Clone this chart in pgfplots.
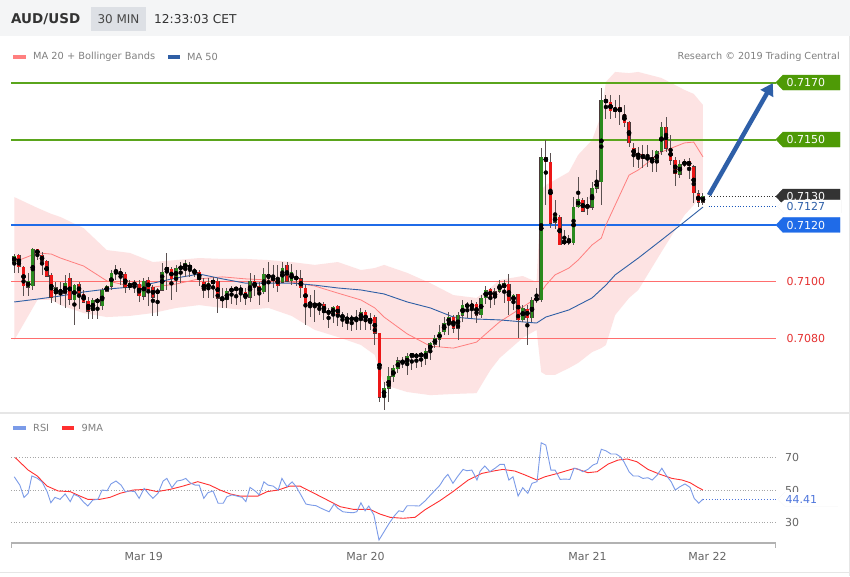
\documentclass[border=0pt]{standalone}
\usepackage{fontspec}
\setmainfont{DejaVu Sans}
\usepackage{pgfplots}
\usepackage{pgfplotstable}
\pgfplotsset{compat=1.18}
\usetikzlibrary{arrows.meta}

\definecolor{hdrbg}{HTML}{F4F5F6}
\definecolor{minbox}{HTML}{DDE0E5}
\definecolor{txtdark}{HTML}{333333}
\definecolor{txtgray}{HTML}{808080}
\definecolor{bandpink}{HTML}{FDE3E3}
\definecolor{ma20}{HTML}{FF7F7F}
\definecolor{ma50}{HTML}{2F5FA5}
\definecolor{cgreen}{HTML}{2A8A1E}
\definecolor{cred}{HTML}{EC1616}
\definecolor{cedge}{HTML}{4A3A3A}
\definecolor{wickgray}{HTML}{5A5050}
\definecolor{lvlgreen}{HTML}{5AA51C}
\definecolor{taggreen}{HTML}{4E9A06}
\definecolor{lvlblue}{HTML}{1F6BE8}
\definecolor{lvlred}{HTML}{FF6E6E}
\definecolor{txtred}{HTML}{E53030}
\definecolor{tagdark}{HTML}{333333}
\definecolor{arrowblue}{HTML}{2E5FA8}
\definecolor{rsiblue}{HTML}{7B9BE8}
\definecolor{rsired}{HTML}{FF3030}
\definecolor{rsitxt}{HTML}{4E76DC}
\definecolor{sepgray}{HTML}{E6E6E6}

% candles: index, open, high, low, close
\pgfplotstableread{
i o h l c
0 0.71070 0.71098 0.71032 0.71091
1 0.71095 0.71098 0.71032 0.71053
2 0.71053 0.71056 0.70951 0.70986
3 0.70982 0.71032 0.70951 0.71004
4 0.70986 0.71119 0.70972 0.71116
5 0.71116 0.71116 0.71077 0.71098
6 0.71095 0.71105 0.71025 0.71074
7 0.71074 0.71077 0.71021 0.71021
8 0.71025 0.71032 0.70926 0.70947
9 0.70961 0.71000 0.70930 0.70982
10 0.70972 0.71000 0.70919 0.70965
11 0.70961 0.71025 0.70912 0.70996
12 0.71014 0.71032 0.70919 0.70940
13 0.70937 0.70996 0.70849 0.70989
14 0.70993 0.71000 0.70905 0.70961
15 0.70958 0.70972 0.70926 0.70930
16 0.70933 0.70947 0.70870 0.70898
17 0.70902 0.70944 0.70870 0.70937
18 0.70937 0.70944 0.70870 0.70933
19 0.70919 0.70979 0.70902 0.70972
20 0.70968 0.70989 0.70965 0.70986
21 0.70986 0.71042 0.70972 0.71032
22 0.71042 0.71060 0.71007 0.71035
23 0.71039 0.71049 0.70989 0.71021
24 0.71028 0.71035 0.70961 0.70982
25 0.70982 0.71007 0.70972 0.70996
26 0.71000 0.71007 0.70961 0.70989
27 0.70993 0.71007 0.70930 0.70951
28 0.70951 0.71014 0.70937 0.71004
29 0.71007 0.71018 0.70919 0.70975
30 0.70982 0.70989 0.70881 0.70947
31 0.70961 0.70982 0.70881 0.70972
32 0.70972 0.71067 0.70972 0.71035
33 0.71039 0.71105 0.70972 0.71053
34 0.71046 0.71053 0.70937 0.71011
35 0.71011 0.71060 0.70965 0.71049
36 0.71046 0.71070 0.70996 0.71053
37 0.71049 0.71077 0.71018 0.71067
38 0.71060 0.71070 0.71018 0.71046
39 0.71042 0.71049 0.71018 0.71035
40 0.71035 0.71042 0.70989 0.71011
41 0.71000 0.71014 0.70944 0.70972
42 0.70979 0.71014 0.70944 0.70996
43 0.71007 0.71018 0.70944 0.70996
44 0.71004 0.71014 0.70891 0.70944
45 0.70944 0.70979 0.70909 0.70937
46 0.70937 0.70982 0.70909 0.70968
47 0.70965 0.70989 0.70926 0.70979
48 0.70975 0.70982 0.70919 0.70979
49 0.70979 0.70989 0.70930 0.70968
50 0.70965 0.70979 0.70919 0.70944
51 0.70947 0.71032 0.70930 0.71004
52 0.71004 0.71025 0.70954 0.70982
53 0.70986 0.71000 0.70919 0.70965
54 0.70965 0.71049 0.70958 0.71028
55 0.71028 0.71070 0.70930 0.71014
56 0.71014 0.71060 0.70979 0.71011
57 0.71014 0.71060 0.70965 0.70989
58 0.71000 0.71070 0.70996 0.71049
59 0.71060 0.71070 0.71000 0.71004
60 0.71004 0.71063 0.70989 0.71035
61 0.71018 0.71042 0.70989 0.71011
62 0.71011 0.71042 0.70944 0.70979
63 0.70979 0.70989 0.70849 0.70926
64 0.70926 0.70954 0.70877 0.70923
65 0.70923 0.70972 0.70860 0.70919
66 0.70926 0.70930 0.70884 0.70916
67 0.70923 0.70930 0.70867 0.70895
68 0.70902 0.70912 0.70839 0.70888
69 0.70888 0.70919 0.70856 0.70912
70 0.70916 0.70919 0.70846 0.70881
71 0.70884 0.70895 0.70842 0.70874
72 0.70874 0.70891 0.70832 0.70870
73 0.70874 0.70884 0.70828 0.70870
74 0.70874 0.70902 0.70832 0.70870
75 0.70870 0.70909 0.70832 0.70895
76 0.70895 0.70902 0.70832 0.70860
77 0.70860 0.70891 0.70832 0.70874
78 0.70877 0.70884 0.70779 0.70821
79 0.70821 0.70821 0.70579 0.70596
80 0.70596 0.70649 0.70551 0.70628
81 0.70628 0.70702 0.70579 0.70670
82 0.70667 0.70709 0.70649 0.70698
83 0.70698 0.70737 0.70681 0.70726
84 0.70726 0.70737 0.70698 0.70716
85 0.70712 0.70751 0.70674 0.70740
86 0.70737 0.70754 0.70691 0.70751
87 0.70744 0.70751 0.70698 0.70740
88 0.70747 0.70754 0.70702 0.70744
89 0.70733 0.70768 0.70709 0.70758
90 0.70758 0.70789 0.70726 0.70786
91 0.70782 0.70814 0.70768 0.70804
92 0.70800 0.70849 0.70772 0.70825
93 0.70825 0.70877 0.70814 0.70856
94 0.70856 0.70895 0.70814 0.70877
95 0.70877 0.70884 0.70821 0.70839
96 0.70839 0.70895 0.70796 0.70884
97 0.70884 0.70937 0.70860 0.70919
98 0.70919 0.70930 0.70874 0.70916
99 0.70912 0.70937 0.70874 0.70923
100 0.70923 0.70930 0.70856 0.70884
101 0.70884 0.70954 0.70874 0.70944
102 0.70944 0.70989 0.70926 0.70972
103 0.70975 0.70982 0.70909 0.70944
104 0.70947 0.70979 0.70919 0.70968
105 0.70968 0.71007 0.70961 0.70993
106 0.70979 0.71007 0.70926 0.70996
107 0.70993 0.71028 0.70884 0.70933
108 0.70933 0.70961 0.70902 0.70954
109 0.70958 0.70958 0.70804 0.70867
110 0.70867 0.70919 0.70860 0.70909
111 0.70905 0.70919 0.70779 0.70874
112 0.70874 0.70947 0.70860 0.70937
113 0.70937 0.70979 0.70926 0.70944
114 0.70940 0.71470 0.70930 0.71439
115 0.71439 0.71498 0.71270 0.71421
116 0.71421 0.71453 0.71189 0.71207
117 0.71211 0.71288 0.71189 0.71232
118 0.71228 0.71235 0.71130 0.71133
119 0.71133 0.71182 0.71130 0.71147
120 0.71147 0.71165 0.71130 0.71140
121 0.71140 0.71298 0.71133 0.71263
122 0.71263 0.71368 0.71260 0.71291
123 0.71288 0.71295 0.71246 0.71249
124 0.71267 0.71298 0.71235 0.71263
125 0.71263 0.71351 0.71253 0.71330
126 0.71330 0.71393 0.71312 0.71354
127 0.71354 0.71681 0.71270 0.71639
128 0.71639 0.71656 0.71575 0.71632
129 0.71632 0.71656 0.71575 0.71600
130 0.71600 0.71639 0.71575 0.71611
131 0.71614 0.71656 0.71551 0.71597
132 0.71590 0.71621 0.71544 0.71561
133 0.71561 0.71565 0.71474 0.71488
134 0.71470 0.71488 0.71404 0.71449
135 0.71453 0.71474 0.71400 0.71442
136 0.71449 0.71481 0.71400 0.71432
137 0.71439 0.71481 0.71404 0.71432
138 0.71439 0.71463 0.71386 0.71421
139 0.71421 0.71463 0.71386 0.71460
140 0.71460 0.71561 0.71446 0.71544
141 0.71544 0.71579 0.71456 0.71470
142 0.71470 0.71516 0.71411 0.71428
143 0.71428 0.71439 0.71340 0.71379
144 0.71379 0.71428 0.71365 0.71414
145 0.71411 0.71432 0.71404 0.71425
146 0.71425 0.71435 0.71361 0.71407
147 0.71404 0.71411 0.71277 0.71312
148 0.71312 0.71323 0.71263 0.71281
149 0.71281 0.71312 0.71270 0.71302
}\candles

% Bollinger bands (upper, lower) and MA 20
\pgfplotstableread{
i up lo mid
0 0.71298 0.70796 0.71070
5 0.71260 0.70937 0.71102
8 0.71239 0.70937 0.71098
10 0.71228 0.70919 0.71084
15 0.71189 0.70891 0.71056
20 0.71112 0.70877 0.71004
25 0.71102 0.70881 0.70986
30 0.71070 0.70891 0.70982
35 0.71077 0.70909 0.70993
40 0.71084 0.70919 0.71011
45 0.71081 0.70909 0.71018
50 0.71081 0.70902 0.71011
55 0.71077 0.70909 0.71007
60 0.71070 0.70881 0.71000
65 0.71060 0.70832 0.70986
70 0.71070 0.70807 0.70961
75 0.71042 0.70779 0.70937
78 0.71049 0.70744 0.70909
80 0.71060 0.70639 0.70877
85 0.71032 0.70614 0.70818
90 0.70996 0.70603 0.70775
95 0.70954 0.70607 0.70768
100 0.70944 0.70610 0.70789
103 0.70979 0.70691 0.70832
105 0.71007 0.70733 0.70860
110 0.71021 0.70804 0.70912
113 0.71000 0.70832 0.70944
114 0.71323 0.70684 0.70965
115 0.71340 0.70674 0.70989
117 0.71358 0.70674 0.71025
120 0.71386 0.70698 0.71049
122 0.71446 0.70716 0.71077
125 0.71498 0.70754 0.71130
127 0.71586 0.70768 0.71154
128 0.71702 0.70779 0.71200
130 0.71737 0.70884 0.71270
133 0.71733 0.70944 0.71375
135 0.71737 0.70972 0.71393
140 0.71716 0.71105 0.71456
145 0.71674 0.71235 0.71488
147 0.71660 0.71270 0.71491
149 0.71621 0.71316 0.71439
}\bands

\pgfplotstableread{
i v
0 0.70930
5 0.70940
10 0.70951
15 0.70965
20 0.70975
25 0.70982
30 0.70996
35 0.71014
40 0.71028
45 0.71011
50 0.70996
55 0.70996
60 0.70996
65 0.70989
70 0.70979
75 0.70972
80 0.70958
85 0.70930
90 0.70909
95 0.70877
100 0.70870
105 0.70867
110 0.70860
113 0.70856
115 0.70877
120 0.70902
125 0.70944
128 0.70989
130 0.71025
135 0.71084
140 0.71147
145 0.71211
149 0.71263
}\mafifty

\pgfplotstableread{
i v
0 58.1
1.2 53
2.1 45.5
3.0 48
3.8 58.6
4.9 57.3
6.0 55
7.1 49
7.9 42.2
8.8 45.5
9.9 44.3
11.0 47.6
12.1 42.9
12.9 47.4
14.0 45.9
14.9 42.9
15.9 40.2
17.0 43.9
18.1 44.3
19.0 50
20.1 49.6
20.9 53.7
22.0 55.5
23.1 53
24.0 49
25.0 49.4
26.1 49
27.0 44.9
28.1 51
29.1 47.6
30.0 44.9
31.1 48
32.2 55.5
33.0 57.1
34.1 51.4
35.2 55.5
36.3 56.1
37.1 57.1
38.0 54.5
39.1 53
40.0 53
41.0 44.9
41.9 48.4
43.0 49.4
44.1 41.9
45.2 41.9
46.0 45.9
47.1 47
48.2 46.3
49.3 45.5
50.1 42.9
51.0 51.6
52.1 49.4
53.0 47
54.0 55
54.9 53
56.0 52.4
57.1 50
57.9 57.1
59.0 52
60.1 55
61.0 52
62.0 47
63.1 41.4
64.2 40.8
65.3 40.4
66.1 39.2
67.2 37.8
68.1 36.7
69.2 41.4
70.0 38.8
71.1 36.7
72.2 36.3
73.3 36.1
74.1 36.7
75.0 42.2
75.9 37.3
76.7 40.2
77.8 34.7
78.9 19.4
80.0 24.5
81.1 29.6
82.2 34.1
83.2 37.3
84.1 36.7
85.0 40.4
86.3 40.4
87.6 40.2
88.9 43.4
90.4 48
92.1 53
93.0 57.1
93.8 59.6
94.9 54.1
96.0 58.6
97.1 62.6
97.9 61.8
99.0 62.2
100.1 56.1
100.8 61.6
101.8 64.7
102.9 61.2
104.0 63.3
105.1 65.7
106.0 65.7
107.0 56.1
107.9 58.1
109.0 46.3
110.0 51.4
111.1 48
112.0 54.1
113.1 55.1
114.0 78.9
115.0 77.5
116.1 62.2
117.0 62.2
118.1 56.5
119.1 56.7
120.2 56.5
121.1 63.3
122.2 62.6
123.0 61.2
124.1 62.6
125.2 65.3
126.1 66.3
127.0 74.9
128.0 74
129.1 72
130.2 72
131.1 70.4
131.9 67.3
133.0 61.2
133.9 58.6
135.0 58.6
136.0 57.1
137.1 57.5
138.0 56.1
139.1 59.2
140.1 63.3
141.0 59.2
142.1 55.1
143.0 50
144.0 52
145.1 53.7
146.2 51.6
147.1 44.9
148.1 41.9
149.0 44.41
}\rsi

\pgfplotstableread{
i v
0.2 69.8
3.0 62.2
4.9 58.7
7.1 52.4
9.5 49.4
12.1 49
14.2 46.3
15.9 44.3
18.5 44.3
20.7 45.5
22.9 48
25.7 50
28.7 50.4
30.9 49
33.7 50.4
36.5 52.4
39.7 55.1
42.3 53
44.5 50
46.7 47.6
48.8 46.3
52.7 46.3
54.7 49
57.1 50
59.6 52.4
61.8 52.4
64.6 48.4
67.7 43.9
70.5 39.8
73.3 38.2
76.9 38.2
79.1 35.3
81.3 33.3
84.1 32.7
86.7 33.3
88.9 38
92.1 43.5
94.9 49
98.2 56.1
101.2 60.2
104.0 61.8
105.7 62.6
108.3 61.6
110.5 59.2
113.1 56.1
114.8 58.1
117.6 60.2
121.3 63.3
124.1 60.6
126.1 61.2
128.5 65.9
130.6 68.3
132.6 69
134.7 67.3
137.1 62.6
139.7 59.6
142.3 57.1
144.5 56.1
146.2 54.5
147.9 51.6
149.0 50
}\rsima

\newcommand\tagfont{\fontsize{11}{13}\selectfont}
% price tag with a left-pointing tip at coordinate #1
\newcommand\pricetag[5]{%
  \filldraw[fill=#2, draw=#5, line width=0.4pt] (#1) -- ++(7pt,7.5pt) -- ++(57pt,0pt) -- ++(0pt,-15pt) -- ++(-57pt,0pt) -- cycle;
  \node[anchor=west, inner sep=0pt, text=#3, font=\tagfont] at ([xshift=10.5pt]#1) {#4};
}

\begin{document}
\begin{tikzpicture}
\fill[white] (0,0) rectangle (850pt,576pt);
\useasboundingbox (0,0) rectangle (850pt,576pt);

% header
\fill[hdrbg] (0,540pt) rectangle (850pt,576pt);
\node[anchor=west, inner sep=0pt, text=txtdark, font=\fontsize{13.5}{16}\selectfont\bfseries] at (11pt,557pt) {AUD/USD};
\fill[minbox] (91pt,545pt) rectangle (146pt,569pt);
\node[inner sep=0pt, text=txtdark!90, font=\fontsize{12}{14}\selectfont] at (118.5pt,557pt) {30 MIN};
\node[anchor=west, inner sep=0pt, text=txtdark, font=\fontsize{12.2}{14}\selectfont] at (154pt,557pt) {12:33:03 CET};

% legend row
\fill[ma20] (13pt,516.5pt) rectangle (26pt,521pt);
\node[anchor=west, inner sep=0pt, text=txtgray, font=\fontsize{9.8}{12}\selectfont] at (33pt,519pt) {MA 20 + Bollinger Bands};
\fill[ma50] (167.5pt,516.5pt) rectangle (180pt,521pt);
\node[anchor=west, inner sep=0pt, text=txtgray, font=\fontsize{9.8}{12}\selectfont] at (187pt,519pt) {MA 50};
\node[anchor=east, inner sep=0pt, text=txtgray, font=\fontsize{9.7}{12}\selectfont] at (840pt,519pt) {Research © 2019 Trading Central};

% panel separator and frame
\draw[sepgray, line width=1.5pt] (0,163pt) -- (850pt,163pt);
\draw[sepgray, line width=0.8pt] (849pt,0) -- (849pt,540pt);
\draw[sepgray, line width=0.8pt] (0,4pt) -- (850pt,4pt);

% main price panel
\begin{axis}[
    at={(11pt,163pt)}, anchor=south west,
    scale only axis, width=765pt, height=353pt,
    xmin=-0.714, xmax=164.8,
    ymin=0.705403, ymax=0.717790,
    axis line style={draw=none}, ticks=none,
    clip=false,
  ]
  % Bollinger band as a stacked area between lower and upper
  \addplot[draw=none, stack plots=y, forget plot] table[x=i, y=lo] {\bands};
  \addplot[draw=none, fill=bandpink, stack plots=y, forget plot]
    table[x=i, y expr={\thisrow{up}-\thisrow{lo}}] {\bands} \closedcycle;

  \addplot[lvlred, line width=1pt] coordinates {(-0.714,0.7100) (164.8,0.7100)};
  \addplot[lvlred, line width=1pt] coordinates {(-0.714,0.7080) (164.8,0.7080)};
  \addplot[lvlblue, line width=1.3pt] coordinates {(-0.714,0.7120) (164.8,0.7120)};
  \addplot[lvlgreen, line width=2pt] coordinates {(-0.714,0.7150) (164.8,0.7150)};
  \addplot[lvlgreen, line width=2pt] coordinates {(-0.714,0.7170) (164.8,0.7170)};
  \addplot[black!80, line width=0.9pt, dotted] coordinates {(150.2,0.7130) (164.8,0.7130)};
  \addplot[lvlblue!80!black, line width=0.9pt, dotted] coordinates {(150.2,0.71265) (164.8,0.71265)};

  \addplot[ma20, line width=0.8pt] table[x=i, y=mid] {\bands};
  \addplot[ma50, line width=0.9pt] table[x=i, y=v] {\mafifty};

  % wicks
  \addplot[only marks, mark=none,
    error bars/.cd, y dir=both, y explicit, error mark=none,
    error bar style={line width=1pt, draw=wickgray}]
    table[x=i, y expr={(\thisrow{h}+\thisrow{l})/2}, y error expr={(\thisrow{h}-\thisrow{l})/2}] {\candles};
  % body outlines
  \addplot[only marks, mark=none,
    error bars/.cd, y dir=both, y explicit, error mark=none,
    error bar style={line width=3.7pt, draw=cedge}]
    table[x=i, y expr={(\thisrow{o}+\thisrow{c})/2},
          y error expr={abs(\thisrow{c}-\thisrow{o})/2+0.000013}] {\candles};
  % rising bodies (falling ones get a zero-length bar here)
  \addplot[only marks, mark=none,
    error bars/.cd, y dir=both, y explicit, error mark=none,
    error bar style={line width=2.9pt, draw=cgreen}]
    table[x=i, y expr={(\thisrow{o}+\thisrow{c})/2},
          y error expr={\thisrow{c}>\thisrow{o} ? (\thisrow{c}-\thisrow{o})/2 : 0}] {\candles};
  % falling bodies
  \addplot[only marks, mark=none,
    error bars/.cd, y dir=both, y explicit, error mark=none,
    error bar style={line width=2.9pt, draw=cred}]
    table[x=i, y expr={(\thisrow{o}+\thisrow{c})/2},
          y error expr={\thisrow{c}<\thisrow{o} ? (\thisrow{o}-\thisrow{c})/2 : 0}] {\candles};

  \draw[arrowblue, line width=4.5pt, -{Triangle[width=14pt,length=12pt]}]
    (axis cs:150.3,0.71305) -- (axis cs:164.1,0.71698);

  \coordinate (t70) at (axis cs:164.8,0.7170);
  \coordinate (t50) at (axis cs:164.8,0.7150);
  \coordinate (t30) at (axis cs:164.8,0.7130);
  \coordinate (t27) at (axis cs:165.1,0.71265);
  \coordinate (t20) at (axis cs:164.8,0.7120);
  \coordinate (t00) at (axis cs:164.8,0.7100);
  \coordinate (t80) at (axis cs:164.8,0.7080);
\end{axis}

\pricetag{t70}{taggreen}{white}{0.7170}{taggreen}
\pricetag{t50}{taggreen}{white}{0.7150}{taggreen}
\pricetag{t30}{tagdark}{white}{0.7130}{tagdark}
\begin{scope}[yshift=-1pt, xshift=1pt]
  \fill[black!10] (t27) -- ++(7pt,6.5pt) -- ++(57pt,0pt) -- ++(0pt,-13pt) -- ++(-57pt,0pt) -- cycle;
\end{scope}
\fill[white] (t27) -- ++(7pt,6.5pt) -- ++(57pt,0pt) -- ++(0pt,-13pt) -- ++(-57pt,0pt) -- cycle;
\node[anchor=west, inner sep=0pt, text=arrowblue, font=\tagfont] at ([xshift=9pt]t27) {0.7127};
\pricetag{t20}{lvlblue}{white}{0.7120}{lvlblue}
\node[anchor=west, inner sep=0pt, text=txtred, font=\tagfont] at ([xshift=10.5pt]t00) {0.7100};
\node[anchor=west, inner sep=0pt, text=txtred, font=\tagfont] at ([xshift=10.5pt]t80) {0.7080};

% RSI legend
\fill[rsiblue] (13pt,146pt) rectangle (26pt,150.5pt);
\node[anchor=west, inner sep=0pt, text=txtgray, font=\fontsize{9.8}{12}\selectfont] at (33pt,148.3pt) {RSI};
\fill[rsired] (61.7pt,146pt) rectangle (74pt,150.5pt);
\node[anchor=west, inner sep=0pt, text=txtgray, font=\fontsize{9.8}{12}\selectfont] at (81.5pt,148.3pt) {9MA};

% RSI panel
\begin{axis}[
    at={(11pt,32.7pt)}, anchor=south west,
    scale only axis, width=765pt, height=105.6pt,
    xmin=-0.714, xmax=164.8,
    ymin=17.4, ymax=82,
    axis line style={draw=none},
    major tick length=0pt,
    ytick={30,50,70},
    yticklabel pos=right,
    ymajorgrids,
    grid style={black!35, line width=0.7pt, dotted},
    xtick={28,76,124,150},
    xticklabels={Mar 19, Mar 20, Mar 21, Mar 22},
    /pgf/number format/assume math mode=true,
    tick label style={font=\fontsize{11}{13}\selectfont, text=black!60},
    xticklabel style={anchor=north, inner sep=0pt, yshift=-8.4pt},
    yticklabel style={anchor=west, inner sep=0pt, xshift=9pt},
    clip=false,
  ]
  \addplot[rsired, line width=0.9pt] table[x=i, y=v] {\rsima};
  \addplot[rsiblue, line width=0.9pt] table[x=i, y=v] {\rsi};
  \addplot[rsitxt, line width=0.9pt, dotted] coordinates {(149,44.41) (164.8,44.41)};
  \coordinate (r44) at (axis cs:165.2,44.41);
\end{axis}
\begin{scope}[yshift=-1pt, xshift=1pt]
  \fill[black!10] (r44) -- ++(7pt,7pt) -- ++(53pt,0pt) -- ++(0pt,-14pt) -- ++(-53pt,0pt) -- cycle;
\end{scope}
\fill[white] (r44) -- ++(7pt,7pt) -- ++(53pt,0pt) -- ++(0pt,-14pt) -- ++(-53pt,0pt) -- cycle;
\node[anchor=west, inner sep=0pt, text=rsitxt, font=\fontsize{11}{13}\selectfont] at ([xshift=7.5pt]r44) {44.41};

% time axis line
\draw[black!30, line width=1.8pt] (11pt,32.7pt) -- (776pt,32.7pt);
\draw[black!30, line width=1.2pt] (11.6pt,33.5pt) -- (11.6pt,28pt);
\draw[black!30, line width=1.2pt] (775.4pt,33.5pt) -- (775.4pt,28pt);
\end{tikzpicture}
\end{document}
